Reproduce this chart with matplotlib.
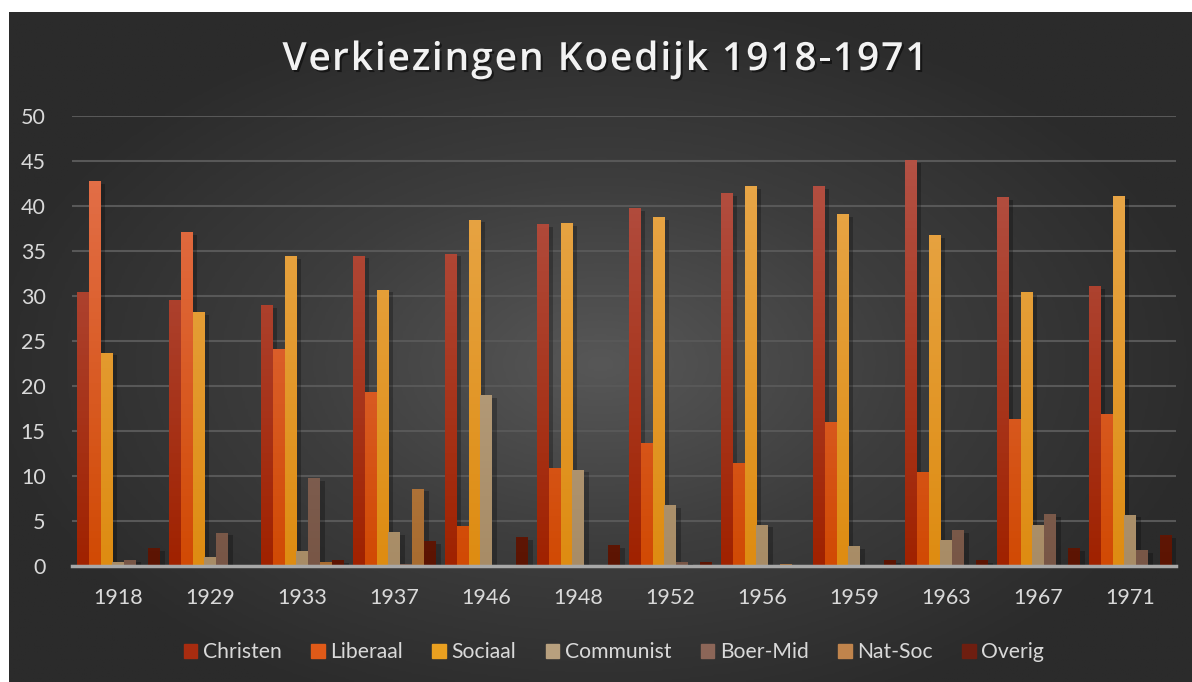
import numpy as np
import matplotlib.pyplot as plt
import matplotlib.patheffects as pe
from matplotlib.colors import LinearSegmentedColormap

years = ['1918', '1929', '1933', '1937', '1946', '1948',
         '1952', '1956', '1959', '1963', '1967', '1971']

christen = [30.4, 29.6, 29.0, 34.5, 34.7, 38.0, 39.8, 41.4, 42.2, 45.1, 41.0, 31.1]
liberaal = [42.8, 37.1, 24.1, 19.3, 4.4, 10.9, 13.7, 11.5, 16.0, 10.4, 16.3, 16.9]
sociaal = [23.7, 28.2, 34.4, 30.7, 38.5, 38.1, 38.8, 42.2, 39.1, 36.8, 30.4, 41.1]
communist = [0.45, 1.0, 1.7, 3.8, 19.0, 10.7, 6.8, 4.6, 2.2, 2.9, 4.6, 5.7]
boer_mid = [0.7, 3.7, 9.8, 0.2, 0, 0, 0.5, 0, 0, 4.0, 5.8, 1.8]
nat_soc = [0, 0, 0.45, 8.6, 0, 0, 0, 0.25, 0, 0, 0, 0]
overig = [2.0, 0, 0.65, 2.8, 3.2, 2.3, 0.4, 0, 0.65, 0.65, 2.0, 3.4]

series = [
    ('Christen', christen, '#b5564c', '#a02200', '#a82c10'),
    ('Liberaal', liberaal, '#e57452', '#d14a04', '#e05a18'),
    ('Sociaal', sociaal, '#e9aa50', '#de8c12', '#eaa020'),
    ('Communist', communist, '#c2ae90', '#a88c66', '#b8a07e'),
    ('Boer-Mid', boer_mid, '#927870', '#785646', '#8c6658'),
    ('Nat-Soc', nat_soc, '#c8925e', '#a86c30', '#c0844c'),
    ('Overig', overig, '#7c3c34', '#5c1402', '#6e1e10'),
]

W, H = 1192, 682
fig = plt.figure(figsize=(W / 100, H / 100), dpi=100, facecolor='white')

# background panel with radial gradient
bg = fig.add_axes([9 / W, 0, 1 - 9 / W, (H - 12) / H], zorder=-10)
gx, gy = np.meshgrid(np.linspace(-1, 1, 400), np.linspace(-1, 1, 250))
r = np.sqrt((gx * 0.95) ** 2 + ((gy - 0.05) * 0.9) ** 2)
r = np.clip(r, 0, 1)
bgcmap = LinearSegmentedColormap.from_list('bg', ['#575757', '#3d3d3d', '#2b2b2b'])
bg.imshow(r, cmap=bgcmap, aspect='auto', extent=[0, 1, 0, 1], vmin=0, vmax=1)
bg.set_axis_off()

ax = fig.add_axes([72 / W, 116 / H, 1104 / W, 450 / H])
ax.set_facecolor('none')

n = len(years)
k = len(series)
x = np.arange(n)
slot = 0.13
bw = 0.12
ax.set_xlim(-0.5, n - 0.5)
ax.set_ylim(0, 50)

grad = np.linspace(1, 0, 64).reshape(-1, 1)
for i, (name, vals, ctop, cbot, cleg) in enumerate(series):
    off = (i - (k - 1) / 2) * slot
    bars = ax.bar(x + off, vals, width=bw, color=cleg, label=name, zorder=3,
                  linewidth=0,
                  path_effects=[pe.SimplePatchShadow(offset=(4, -2), shadow_rgbFace='black', alpha=0.25),
                                pe.Normal()])
    cmap = LinearSegmentedColormap.from_list(name, [cbot, ctop])
    for b in bars:
        h = b.get_height()
        if h <= 0:
            continue
        x0 = b.get_x()
        im = ax.imshow(grad, cmap=cmap, vmin=0, vmax=1, aspect='auto',
                       extent=[x0, x0 + bw, 0, 50], zorder=4)
        im.set_clip_path(b)

ax.set_aspect('auto')
ax.set_xlim(-0.5, n - 0.5)
ax.set_ylim(0, 50)

ax.set_yticks(np.arange(0, 51, 5))
ax.grid(axis='y', color='#585858', lw=1.5, zorder=0)
ax.set_xticks(x)
ax.set_xticklabels(years)
ax.tick_params(axis='both', length=0, colors='#d9d9d9', labelsize=15.5)
ax.tick_params(axis='y', pad=19)
ax.tick_params(axis='x', pad=16)
for lab in ax.get_xticklabels() + ax.get_yticklabels():
    lab.set_fontfamily('Lato')
for s in ['top', 'right', 'left']:
    ax.spines[s].set_visible(False)
ax.spines['bottom'].set_color('#a8a8a8')
ax.spines['bottom'].set_linewidth(2.5)
ax.spines['bottom'].set_zorder(6)

# title with letter spacing, drawn one character at a time
title = 'Verkiezingen Koedijk 1918-1971'
tkw = dict(fontsize=28, fontweight='semibold', color='#f2f2f2', family='Open Sans',
           va='center', ha='left',
           path_effects=[pe.withSimplePatchShadow(offset=(1.5, -1.5), shadow_rgbFace='black', alpha=0.5)])
renderer = fig.canvas.get_renderer()
spacing = 1.9
widths = []
for i in range(len(title)):
    t = fig.text(0, 0, title[:i + 1] + '|', **tkw)
    t0 = fig.text(0, 0, '|', **tkw)
    widths.append(t.get_window_extent(renderer).width - t0.get_window_extent(renderer).width)
    t.remove()
    t0.remove()
total = widths[-1] + spacing * (len(title) - 1)
start = 605 - total / 2
prev = 0
for i, ch in enumerate(title):
    xpos = start + prev + spacing * i
    fig.text(xpos / W, 1 - 60 / H, ch, **tkw)
    prev = widths[i]

handles = [plt.Rectangle((0, 0), 1, 1, color=s[4]) for s in series]
leg = fig.legend(handles, [s[0] for s in series], loc='center', ncol=7,
                 bbox_to_anchor=(0.515, 0.044), frameon=False,
                 handlelength=0.65, handleheight=0.65, handletextpad=0.25,
                 columnspacing=1.4,
                 prop={'family': 'Lato', 'size': 15.2})
for t in leg.get_texts():
    t.set_color('#d9d9d9')

fig.savefig('out.png', dpi=100, facecolor='white')
